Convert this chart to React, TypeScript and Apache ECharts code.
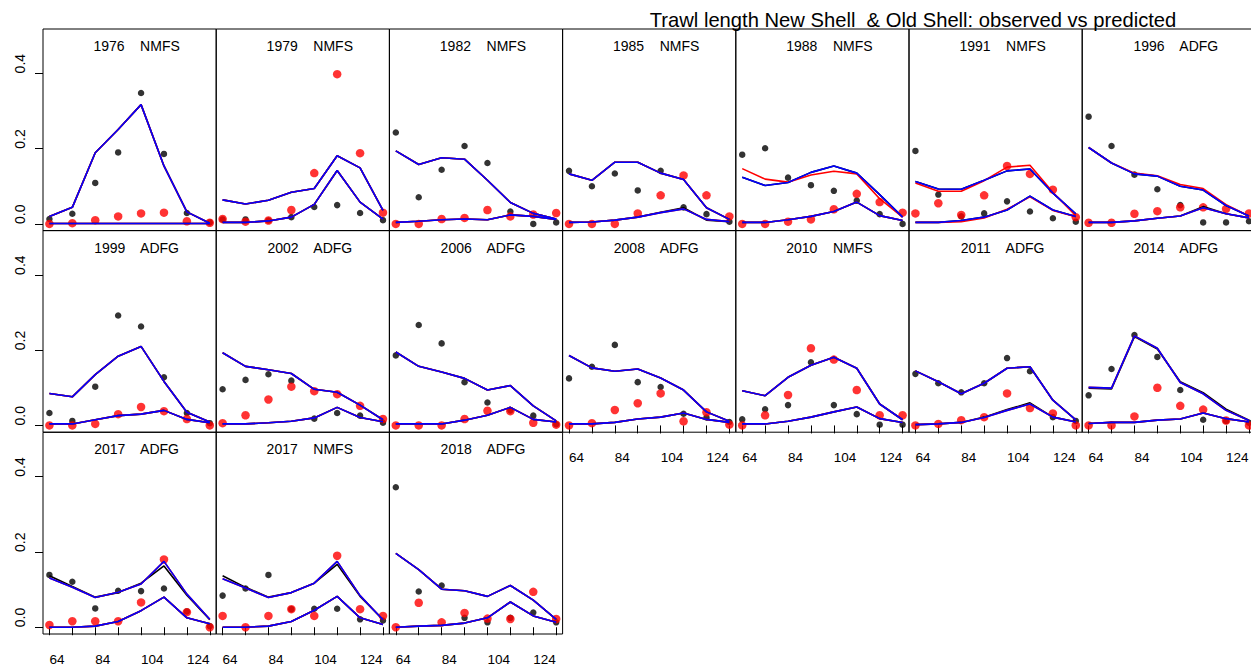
import React, { useEffect, useRef } from "react";
import * as echarts from "echarts";

// ---------------- data ----------------
const lengthBins = [64, 74, 84, 94, 104, 114, 124, 134];
const xLabelValues = [64, 84, 104, 124];
const yLabelValues = [0, 0.2, 0.4];

const panelYears = ["1976", "1979", "1982", "1985", "1988", "1991", "1996", "1999", "2002", "2006", "2008", "2010", "2011", "2014", "2017", "2017", "2018"];
const panelSurveys = ["NMFS", "NMFS", "NMFS", "NMFS", "NMFS", "NMFS", "ADFG", "ADFG", "ADFG", "ADFG", "ADFG", "NMFS", "ADFG", "ADFG", "ADFG", "NMFS", "ADFG"];

// observed new shell (black points)
const obsNewShell = [
  [0.013, 0.027, 0.109, 0.190, 0.348, 0.186, 0.029, 0.004],
  [0.012, 0.012, 0.009, 0.018, 0.045, 0.050, 0.029, 0.010],
  [0.243, 0.071, 0.144, 0.207, 0.162, 0.033, 0.000, 0.004],
  [0.141, 0.100, 0.134, 0.089, 0.141, 0.044, 0.026, 0.006],
  [0.184, 0.201, 0.123, 0.103, 0.088, 0.062, 0.026, 0.000],
  [0.194, 0.078, 0.020, 0.028, 0.060, 0.033, 0.015, 0.006],
  [0.285, 0.207, 0.131, 0.092, 0.050, 0.004, 0.004, 0.007],
  [0.033, 0.012, 0.103, 0.292, 0.263, 0.128, 0.033, 0.006],
  [0.096, 0.121, 0.136, 0.119, 0.018, 0.033, 0.026, 0.007],
  [0.186, 0.267, 0.218, 0.115, 0.061, 0.040, 0.026, 0.003],
  [0.125, 0.156, 0.214, 0.115, 0.102, 0.031, 0.021, 0.009],
  [0.016, 0.043, 0.054, 0.168, 0.054, 0.030, 0.002, 0.002],
  [0.137, 0.112, 0.088, 0.112, 0.179, 0.144, 0.022, 0.012],
  [0.080, 0.150, 0.240, 0.182, 0.094, 0.015, 0.012, 0.007],
  [0.139, 0.121, 0.050, 0.097, 0.096, 0.103, 0.042, 0.003],
  [0.084, 0.103, 0.139, 0.048, 0.049, 0.049, 0.021, 0.018],
  [0.372, 0.095, 0.111, 0.025, 0.013, 0.025, 0.039, 0.013],
];

// observed old shell (red points)
const obsOldShell = [
  [0.000, 0.002, 0.010, 0.020, 0.028, 0.030, 0.007, 0.003],
  [0.013, 0.006, 0.009, 0.037, 0.135, 0.398, 0.188, 0.030],
  [0.000, 0.000, 0.013, 0.016, 0.037, 0.020, 0.025, 0.029],
  [0.000, 0.000, 0.000, 0.028, 0.076, 0.129, 0.076, 0.020],
  [0.000, 0.000, 0.006, 0.012, 0.039, 0.080, 0.058, 0.030],
  [0.028, 0.055, 0.024, 0.076, 0.154, 0.133, 0.091, 0.018],
  [0.003, 0.003, 0.027, 0.034, 0.044, 0.044, 0.040, 0.028],
  [0.000, 0.000, 0.004, 0.030, 0.049, 0.038, 0.017, 0.000],
  [0.006, 0.027, 0.069, 0.103, 0.091, 0.083, 0.052, 0.017],
  [0.000, 0.000, 0.000, 0.017, 0.039, 0.038, 0.007, 0.002],
  [0.000, 0.006, 0.041, 0.059, 0.085, 0.011, 0.035, 0.002],
  [0.000, 0.027, 0.081, 0.205, 0.175, 0.094, 0.027, 0.027],
  [0.000, 0.004, 0.014, 0.022, 0.085, 0.046, 0.032, 0.000],
  [0.000, 0.000, 0.024, 0.100, 0.052, 0.042, 0.013, 0.000],
  [0.006, 0.016, 0.016, 0.016, 0.066, 0.180, 0.040, 0.000],
  [0.030, 0.000, 0.030, 0.048, 0.030, 0.190, 0.048, 0.030],
  [0.000, 0.065, 0.013, 0.038, 0.023, 0.022, 0.094, 0.022],
];

// predicted new shell (blue model)
const predNewBlue = [
  [0.020, 0.044, 0.189, 0.251, 0.317, 0.154, 0.032, 0.002],
  [0.064, 0.053, 0.063, 0.084, 0.094, 0.181, 0.149, 0.036],
  [0.194, 0.158, 0.176, 0.172, 0.116, 0.057, 0.028, 0.013],
  [0.133, 0.116, 0.164, 0.164, 0.135, 0.118, 0.043, 0.012],
  [0.124, 0.102, 0.110, 0.137, 0.154, 0.135, 0.078, 0.018],
  [0.113, 0.093, 0.092, 0.116, 0.141, 0.146, 0.082, 0.027],
  [0.203, 0.162, 0.133, 0.127, 0.100, 0.090, 0.049, 0.021],
  [0.085, 0.076, 0.135, 0.184, 0.210, 0.117, 0.035, 0.009],
  [0.193, 0.157, 0.148, 0.138, 0.096, 0.088, 0.054, 0.015],
  [0.195, 0.157, 0.142, 0.125, 0.094, 0.106, 0.052, 0.012],
  [0.186, 0.153, 0.144, 0.150, 0.126, 0.094, 0.036, 0.011],
  [0.092, 0.079, 0.128, 0.160, 0.181, 0.152, 0.057, 0.015],
  [0.145, 0.116, 0.084, 0.112, 0.152, 0.156, 0.067, 0.015],
  [0.101, 0.099, 0.238, 0.205, 0.114, 0.084, 0.040, 0.013],
  [0.131, 0.106, 0.079, 0.093, 0.115, 0.175, 0.088, 0.021],
  [0.129, 0.104, 0.079, 0.092, 0.117, 0.175, 0.084, 0.020],
  [0.196, 0.153, 0.101, 0.097, 0.082, 0.111, 0.072, 0.021],
];

// predicted old shell (blue model)
const predOldBlue = [
  [0.001, 0.001, 0.001, 0.001, 0.001, 0.001, 0.001, 0.001],
  [0.004, 0.004, 0.008, 0.018, 0.052, 0.142, 0.058, 0.013],
  [0.004, 0.007, 0.011, 0.013, 0.011, 0.024, 0.020, 0.012],
  [0.004, 0.005, 0.010, 0.018, 0.030, 0.040, 0.012, 0.006],
  [0.004, 0.004, 0.011, 0.020, 0.033, 0.058, 0.022, 0.009],
  [0.004, 0.004, 0.009, 0.018, 0.037, 0.074, 0.037, 0.020],
  [0.004, 0.004, 0.008, 0.015, 0.021, 0.043, 0.027, 0.016],
  [0.004, 0.004, 0.015, 0.026, 0.030, 0.040, 0.016, 0.007],
  [0.004, 0.004, 0.007, 0.011, 0.020, 0.048, 0.021, 0.010],
  [0.004, 0.004, 0.004, 0.014, 0.027, 0.048, 0.016, 0.009],
  [0.004, 0.004, 0.008, 0.017, 0.022, 0.033, 0.016, 0.008],
  [0.004, 0.004, 0.011, 0.022, 0.036, 0.049, 0.018, 0.008],
  [0.002, 0.004, 0.008, 0.021, 0.040, 0.057, 0.022, 0.009],
  [0.005, 0.008, 0.008, 0.014, 0.017, 0.033, 0.018, 0.009],
  [0.000, 0.000, 0.003, 0.015, 0.044, 0.080, 0.025, 0.009],
  [0.000, 0.000, 0.003, 0.015, 0.045, 0.082, 0.025, 0.007],
  [0.000, 0.003, 0.005, 0.011, 0.025, 0.067, 0.030, 0.013],
];

// other models where they differ visibly from the blue one (null = same as blue)
const predNewRed: (number[] | null)[] = [
  null, null, null, null,
  [0.147, 0.119, 0.111, 0.130, 0.140, 0.133, 0.067, 0.018],
  [0.109, 0.087, 0.087, 0.115, 0.151, 0.156, 0.084, 0.022],
  [0.203, 0.162, 0.135, 0.128, 0.105, 0.094, 0.051, 0.021],
  null, null, null, null, null, null, null, null, null, null,
];
const predOldRed: (number[] | null)[] = [
  null, null, null, null, null,
  [0.004, 0.004, 0.006, 0.016, 0.039, 0.072, 0.036, 0.019],
  null, null, null, null, null, null, null, null, null, null, null,
];
const predNewBlack: (number[] | null)[] = [
  null, null, null, null, null, null, null, null, null, null, null, null, null,
  [0.099, 0.097, 0.236, 0.203, 0.116, 0.087, 0.043, 0.014],
  [0.137, 0.108, 0.080, 0.092, 0.117, 0.163, 0.085, 0.020],
  [0.137, 0.106, 0.080, 0.092, 0.117, 0.167, 0.082, 0.020],
  null,
];
const predOldBlack: (number[] | null)[] = [
  null, null, null,
  [0.004, 0.005, 0.010, 0.018, 0.031, 0.043, 0.010, 0.006],
  null, null,
  [0.004, 0.004, 0.008, 0.015, 0.021, 0.046, 0.027, 0.016],
  null, null, null, null, null,
  [0.002, 0.004, 0.008, 0.022, 0.042, 0.060, 0.022, 0.010],
  null, null, null, null,
];

const mainTitle = "Trawl length New Shell  & Old Shell: observed vs predicted";

// ---------------- layout ----------------
const W = 1251;
const H = 667;
const PANEL_LEFT0 = 43;
const PANEL_W = 173.2;
const ROW_TOPS = [29, 230.5, 432.3];
const PANEL_H = 201.7;
const NCOL = 7;
const X_MIN = 61.2;
const X_MAX = 136.8;
const Y_MIN = -0.018;
const Y_MAX = 0.518;
const FONT = '"Liberation Sans", Arial, Helvetica, sans-serif';

export default function App() {
  const ref = useRef<HTMLDivElement>(null);

  useEffect(() => {
    if (!ref.current) return;
    const chart = echarts.init(ref.current, null, { renderer: "svg" });

    const grids: any[] = [];
    const xAxes: any[] = [];
    const yAxes: any[] = [];
    const series: any[] = [];
    const graphics: any[] = [];

    const toPts = (arr: number[]) => lengthBins.map((x, k) => [x, arr[k]]);

    panelYears.forEach((year, i) => {
      const r = Math.floor(i / NCOL);
      const c = i % NCOL;
      const left = PANEL_LEFT0 + c * PANEL_W;
      const top = ROW_TOPS[r];
      const isLeft = c === 0;
      const isBottom = r === 2 || (r === 1 && c >= 3);

      grids.push({
        left,
        top,
        width: PANEL_W,
        height: PANEL_H,
        show: true,
        borderColor: "#000",
        borderWidth: 1,
        backgroundColor: "transparent",
        containLabel: false,
        outerBoundsMode: "none",
      });

      xAxes.push({
        gridIndex: i,
        type: "value",
        min: X_MIN,
        max: X_MAX,
        axisLine: { show: false },
        splitLine: { show: false },
        axisTick: {
          show: isBottom,
          customValues: lengthBins,
          length: 8,
          inside: false,
          lineStyle: { color: "#000", width: 1 },
        },
        axisLabel: {
          show: isBottom,
          customValues: xLabelValues,
          margin: 19,
          align: "left",
          fontSize: 13.5,
          lineHeight: 12,
          color: "#000",
          fontFamily: FONT,
        },
      });

      yAxes.push({
        gridIndex: i,
        type: "value",
        min: Y_MIN,
        max: Y_MAX,
        axisLine: { show: false },
        splitLine: { show: false },
        axisTick: {
          show: isLeft,
          customValues: yLabelValues,
          length: 8,
          inside: false,
          lineStyle: { color: "#000", width: 1 },
        },
        axisLabel: {
          show: isLeft,
          customValues: yLabelValues,
          rotate: 90,
          margin: 16,
          align: "left",
          verticalAlign: "bottom",
          fontSize: 14,
          color: "#000",
          fontFamily: FONT,
          formatter: (v: number) => v.toFixed(1),
        },
      });

      // observed points
      series.push({
        type: "scatter",
        xAxisIndex: i,
        yAxisIndex: i,
        data: toPts(obsNewShell[i]),
        symbol: "circle",
        symbolSize: 6.5,
        itemStyle: { color: "#000" },
        silent: true,
        z: 2,
      });
      series.push({
        type: "scatter",
        xAxisIndex: i,
        yAxisIndex: i,
        data: toPts(obsOldShell[i]),
        symbol: "circle",
        symbolSize: 8.5,
        itemStyle: { color: "#ff0000" },
        silent: true,
        z: 2,
      });

      const lineSeries = (arr: number[], color: string, z: number) => ({
        type: "line",
        xAxisIndex: i,
        yAxisIndex: i,
        data: toPts(arr),
        symbol: "none",
        showSymbol: false,
        lineStyle: { color, width: 1.6 },
        silent: true,
        z,
      });

      // predicted: black, red, blue models
      series.push(lineSeries(predNewBlack[i] || predNewBlue[i], "#000", 3));
      series.push(lineSeries(predOldBlack[i] || predOldBlue[i], "#000", 3));
      series.push(lineSeries(predNewRed[i] || predNewBlue[i], "#ff0000", 4));
      series.push(lineSeries(predOldRed[i] || predOldBlue[i], "#ff0000", 4));
      series.push(lineSeries(predNewBlue[i], "#0000ff", 5));
      series.push(lineSeries(predOldBlue[i], "#0000ff", 5));

      graphics.push({
        type: "text",
        x: left + PANEL_W / 2 + 7,
        y: top + 17,
        z: 10,
        style: {
          text: `${year}    ${panelSurveys[i]}`,
          fill: "#000",
          font: `14px ${FONT}`,
          align: "center",
          verticalAlign: "middle",
          textAlign: "center",
          textVerticalAlign: "middle",
        },
      });
    });

    graphics.push({
      type: "text",
      x: 913,
      y: 20,
      z: 0,
      style: {
        text: mainTitle,
        fill: "#000",
        font: `20.2px ${FONT}`,
        align: "center",
        verticalAlign: "middle",
        textAlign: "center",
        textVerticalAlign: "middle",
      },
    });

    chart.setOption({
      animation: false,
      backgroundColor: "#fff",
      grid: grids,
      xAxis: xAxes,
      yAxis: yAxes,
      series,
      graphic: graphics,
    });

    return () => chart.dispose();
  }, []);

  return (
    <div
      ref={ref}
      style={{ position: "absolute", left: 0, top: 0, width: W, height: H, background: "#fff" }}
    />
  );
}
